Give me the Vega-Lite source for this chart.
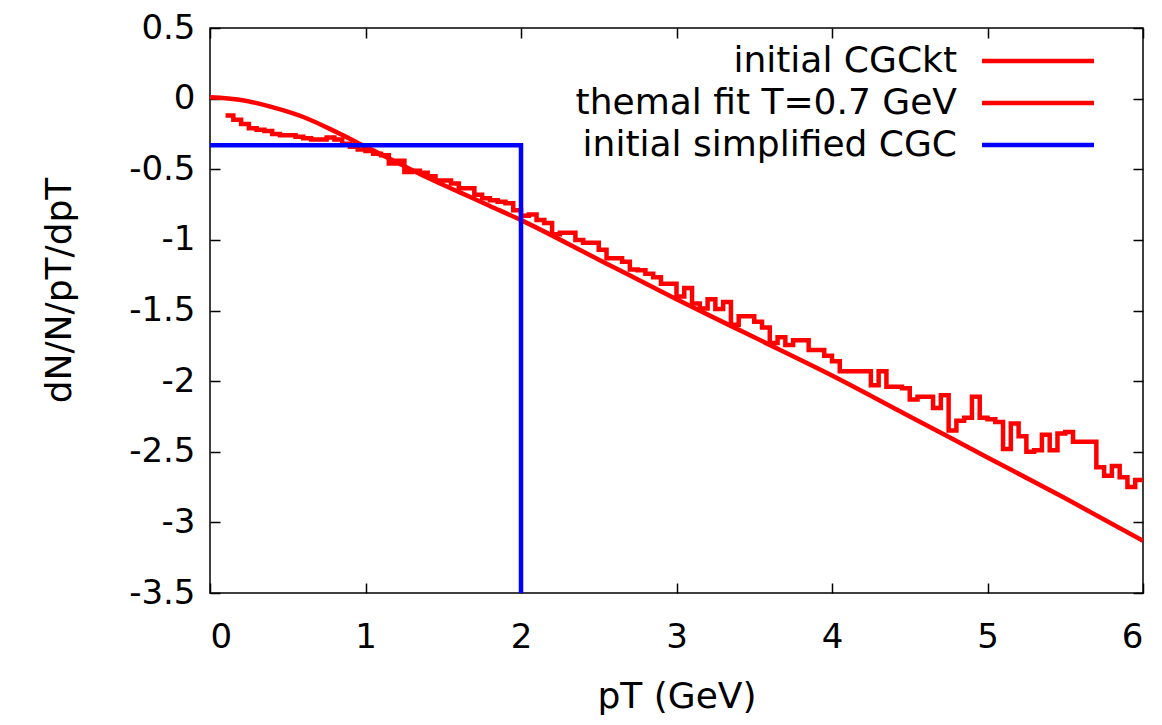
{
  "$schema": "https://vega.github.io/schema/vega-lite/v6.json",
  "width": 933,
  "height": 565,
  "autosize": {"type": "none"},
  "padding": {"left": 210, "top": 28, "right": 19, "bottom": 132},
  "background": "white",
  "config": {
    "view": {"stroke": "black", "strokeWidth": 1.5},
    "axis": {
      "grid": false,
      "domain": false,
      "labelFont": "DejaVu Sans",
      "labelFontSize": 34,
      "labelColor": "black",
      "titleFont": "DejaVu Sans",
      "titleFontSize": 36,
      "titleFontWeight": "normal",
      "titleColor": "black",
      "tickColor": "black",
      "tickWidth": 1.5,
      "tickSize": -10
    }
  },
  "data": {
    "values": [
      {"series": "initial CGCkt", "x": 0.10, "y": -0.12},
      {"series": "initial CGCkt", "x": 0.15, "y": -0.15},
      {"series": "initial CGCkt", "x": 0.20, "y": -0.18},
      {"series": "initial CGCkt", "x": 0.25, "y": -0.21},
      {"series": "initial CGCkt", "x": 0.30, "y": -0.22},
      {"series": "initial CGCkt", "x": 0.35, "y": -0.23},
      {"series": "initial CGCkt", "x": 0.40, "y": -0.25},
      {"series": "initial CGCkt", "x": 0.45, "y": -0.26},
      {"series": "initial CGCkt", "x": 0.50, "y": -0.26},
      {"series": "initial CGCkt", "x": 0.55, "y": -0.27},
      {"series": "initial CGCkt", "x": 0.60, "y": -0.28},
      {"series": "initial CGCkt", "x": 0.65, "y": -0.29},
      {"series": "initial CGCkt", "x": 0.70, "y": -0.29},
      {"series": "initial CGCkt", "x": 0.75, "y": -0.275},
      {"series": "initial CGCkt", "x": 0.80, "y": -0.29},
      {"series": "initial CGCkt", "x": 0.85, "y": -0.32},
      {"series": "initial CGCkt", "x": 0.90, "y": -0.34},
      {"series": "initial CGCkt", "x": 0.95, "y": -0.36},
      {"series": "initial CGCkt", "x": 1.00, "y": -0.37},
      {"series": "initial CGCkt", "x": 1.05, "y": -0.39},
      {"series": "initial CGCkt", "x": 1.10, "y": -0.40},
      {"series": "initial CGCkt", "x": 1.15, "y": -0.46},
      {"series": "initial CGCkt", "x": 1.20, "y": -0.44},
      {"series": "initial CGCkt", "x": 1.25, "y": -0.52},
      {"series": "initial CGCkt", "x": 1.30, "y": -0.51},
      {"series": "initial CGCkt", "x": 1.35, "y": -0.525},
      {"series": "initial CGCkt", "x": 1.40, "y": -0.55},
      {"series": "initial CGCkt", "x": 1.45, "y": -0.58},
      {"series": "initial CGCkt", "x": 1.50, "y": -0.58},
      {"series": "initial CGCkt", "x": 1.55, "y": -0.60},
      {"series": "initial CGCkt", "x": 1.60, "y": -0.635},
      {"series": "initial CGCkt", "x": 1.65, "y": -0.635},
      {"series": "initial CGCkt", "x": 1.70, "y": -0.68},
      {"series": "initial CGCkt", "x": 1.75, "y": -0.705},
      {"series": "initial CGCkt", "x": 1.80, "y": -0.72},
      {"series": "initial CGCkt", "x": 1.85, "y": -0.73},
      {"series": "initial CGCkt", "x": 1.90, "y": -0.74},
      {"series": "initial CGCkt", "x": 1.95, "y": -0.79},
      {"series": "initial CGCkt", "x": 2.00, "y": -0.83},
      {"series": "initial CGCkt", "x": 2.05, "y": -0.82},
      {"series": "initial CGCkt", "x": 2.10, "y": -0.86},
      {"series": "initial CGCkt", "x": 2.15, "y": -0.88},
      {"series": "initial CGCkt", "x": 2.20, "y": -0.96},
      {"series": "initial CGCkt", "x": 2.25, "y": -0.95},
      {"series": "initial CGCkt", "x": 2.30, "y": -0.95},
      {"series": "initial CGCkt", "x": 2.35, "y": -1.00},
      {"series": "initial CGCkt", "x": 2.40, "y": -1.02},
      {"series": "initial CGCkt", "x": 2.45, "y": -1.02},
      {"series": "initial CGCkt", "x": 2.50, "y": -1.07},
      {"series": "initial CGCkt", "x": 2.55, "y": -1.13},
      {"series": "initial CGCkt", "x": 2.60, "y": -1.13},
      {"series": "initial CGCkt", "x": 2.65, "y": -1.155},
      {"series": "initial CGCkt", "x": 2.70, "y": -1.21},
      {"series": "initial CGCkt", "x": 2.75, "y": -1.215},
      {"series": "initial CGCkt", "x": 2.80, "y": -1.24},
      {"series": "initial CGCkt", "x": 2.85, "y": -1.265},
      {"series": "initial CGCkt", "x": 2.90, "y": -1.31},
      {"series": "initial CGCkt", "x": 2.95, "y": -1.31},
      {"series": "initial CGCkt", "x": 3.00, "y": -1.40},
      {"series": "initial CGCkt", "x": 3.05, "y": -1.34},
      {"series": "initial CGCkt", "x": 3.10, "y": -1.45},
      {"series": "initial CGCkt", "x": 3.15, "y": -1.485},
      {"series": "initial CGCkt", "x": 3.20, "y": -1.42},
      {"series": "initial CGCkt", "x": 3.25, "y": -1.49},
      {"series": "initial CGCkt", "x": 3.30, "y": -1.44},
      {"series": "initial CGCkt", "x": 3.35, "y": -1.60},
      {"series": "initial CGCkt", "x": 3.40, "y": -1.54},
      {"series": "initial CGCkt", "x": 3.45, "y": -1.54},
      {"series": "initial CGCkt", "x": 3.50, "y": -1.58},
      {"series": "initial CGCkt", "x": 3.55, "y": -1.62},
      {"series": "initial CGCkt", "x": 3.60, "y": -1.73},
      {"series": "initial CGCkt", "x": 3.65, "y": -1.69},
      {"series": "initial CGCkt", "x": 3.70, "y": -1.745},
      {"series": "initial CGCkt", "x": 3.75, "y": -1.71},
      {"series": "initial CGCkt", "x": 3.80, "y": -1.71},
      {"series": "initial CGCkt", "x": 3.85, "y": -1.78},
      {"series": "initial CGCkt", "x": 3.90, "y": -1.78},
      {"series": "initial CGCkt", "x": 3.95, "y": -1.82},
      {"series": "initial CGCkt", "x": 4.00, "y": -1.86},
      {"series": "initial CGCkt", "x": 4.05, "y": -1.93},
      {"series": "initial CGCkt", "x": 4.10, "y": -1.93},
      {"series": "initial CGCkt", "x": 4.15, "y": -1.93},
      {"series": "initial CGCkt", "x": 4.20, "y": -1.93},
      {"series": "initial CGCkt", "x": 4.25, "y": -2.03},
      {"series": "initial CGCkt", "x": 4.30, "y": -1.93},
      {"series": "initial CGCkt", "x": 4.35, "y": -2.04},
      {"series": "initial CGCkt", "x": 4.40, "y": -2.04},
      {"series": "initial CGCkt", "x": 4.45, "y": -2.05},
      {"series": "initial CGCkt", "x": 4.50, "y": -2.13},
      {"series": "initial CGCkt", "x": 4.55, "y": -2.11},
      {"series": "initial CGCkt", "x": 4.60, "y": -2.11},
      {"series": "initial CGCkt", "x": 4.65, "y": -2.19},
      {"series": "initial CGCkt", "x": 4.70, "y": -2.10},
      {"series": "initial CGCkt", "x": 4.75, "y": -2.35},
      {"series": "initial CGCkt", "x": 4.80, "y": -2.28},
      {"series": "initial CGCkt", "x": 4.85, "y": -2.26},
      {"series": "initial CGCkt", "x": 4.90, "y": -2.11},
      {"series": "initial CGCkt", "x": 4.95, "y": -2.26},
      {"series": "initial CGCkt", "x": 5.00, "y": -2.27},
      {"series": "initial CGCkt", "x": 5.05, "y": -2.29},
      {"series": "initial CGCkt", "x": 5.10, "y": -2.48},
      {"series": "initial CGCkt", "x": 5.15, "y": -2.30},
      {"series": "initial CGCkt", "x": 5.20, "y": -2.39},
      {"series": "initial CGCkt", "x": 5.25, "y": -2.50},
      {"series": "initial CGCkt", "x": 5.30, "y": -2.49},
      {"series": "initial CGCkt", "x": 5.35, "y": -2.38},
      {"series": "initial CGCkt", "x": 5.40, "y": -2.49},
      {"series": "initial CGCkt", "x": 5.45, "y": -2.37},
      {"series": "initial CGCkt", "x": 5.50, "y": -2.36},
      {"series": "initial CGCkt", "x": 5.55, "y": -2.43},
      {"series": "initial CGCkt", "x": 5.60, "y": -2.43},
      {"series": "initial CGCkt", "x": 5.65, "y": -2.43},
      {"series": "initial CGCkt", "x": 5.70, "y": -2.61},
      {"series": "initial CGCkt", "x": 5.75, "y": -2.67},
      {"series": "initial CGCkt", "x": 5.80, "y": -2.60},
      {"series": "initial CGCkt", "x": 5.85, "y": -2.68},
      {"series": "initial CGCkt", "x": 5.90, "y": -2.75},
      {"series": "initial CGCkt", "x": 5.95, "y": -2.70},
      {"series": "initial CGCkt", "x": 6.00, "y": -2.70},
      {"series": "themal fit T=0.7 GeV", "x": 0.0, "y": 0.01},
      {"series": "themal fit T=0.7 GeV", "x": 0.2, "y": -0.01},
      {"series": "themal fit T=0.7 GeV", "x": 0.4, "y": -0.06},
      {"series": "themal fit T=0.7 GeV", "x": 0.6, "y": -0.13},
      {"series": "themal fit T=0.7 GeV", "x": 0.8, "y": -0.23},
      {"series": "themal fit T=0.7 GeV", "x": 1.0, "y": -0.34},
      {"series": "themal fit T=0.7 GeV", "x": 1.2, "y": -0.45},
      {"series": "themal fit T=0.7 GeV", "x": 1.4, "y": -0.56},
      {"series": "themal fit T=0.7 GeV", "x": 1.6, "y": -0.66},
      {"series": "themal fit T=0.7 GeV", "x": 1.8, "y": -0.76},
      {"series": "themal fit T=0.7 GeV", "x": 2.0, "y": -0.86},
      {"series": "themal fit T=0.7 GeV", "x": 2.5, "y": -1.14},
      {"series": "themal fit T=0.7 GeV", "x": 3.0, "y": -1.42},
      {"series": "themal fit T=0.7 GeV", "x": 3.5, "y": -1.69},
      {"series": "themal fit T=0.7 GeV", "x": 4.0, "y": -1.96},
      {"series": "themal fit T=0.7 GeV", "x": 4.5, "y": -2.25},
      {"series": "themal fit T=0.7 GeV", "x": 5.0, "y": -2.54},
      {"series": "themal fit T=0.7 GeV", "x": 5.5, "y": -2.83},
      {"series": "themal fit T=0.7 GeV", "x": 6.0, "y": -3.13},
      {"series": "initial simplified CGC", "x": 0.0, "y": -0.33, "i": 1},
      {"series": "initial simplified CGC", "x": 2.0, "y": -0.33, "i": 2},
      {"series": "initial simplified CGC", "x": 2.0, "y": -3.5, "i": 3}
    ]
  },
  "layer": [
    {
      "transform": [{"filter": "datum.series === 'initial CGCkt'"}],
      "mark": {"type": "line", "interpolate": "step-after", "strokeWidth": 4.5, "clip": true},
      "encoding": {
        "x": {"field": "x", "type": "quantitative", "scale": {"domain": [0, 6], "nice": false},
          "axis": {"orient": "bottom", "values": [0, 1, 2, 3, 4, 5, 6], "labelPadding": 37, "title": "pT (GeV)", "titlePadding": 25}},
        "y": {"field": "y", "type": "quantitative", "scale": {"domain": [-3.5, 0.5], "nice": false, "zero": false},
          "axis": {"orient": "left", "values": [-3.5, -3, -2.5, -2, -1.5, -1, -0.5, 0, 0.5], "labelExpr": "'' + datum.value", "labelPadding": 25, "title": "dN/N/pT/dpT", "titlePadding": 50, "titleY": 262}},
        "color": {"field": "series", "type": "nominal",
          "scale": {"domain": ["initial CGCkt", "themal fit T=0.7 GeV", "initial simplified CGC"], "range": ["#ff0000", "#ff0000", "#0000ff"]},
          "legend": {"orient": "none", "legendX": 810, "legendY": 15, "title": null, "symbolType": "M-8,0H8", "symbolSize": 196, "symbolStrokeWidth": 4.5, "labelFont": "DejaVu Sans", "labelFontSize": 36, "labelColor": "black", "labelAlign": "right", "labelOffset": -99, "labelLimit": 1000, "rowPadding": 6, "padding": 0}}
      }
    },
    {
      "transform": [{"filter": "datum.series === 'themal fit T=0.7 GeV'"}],
      "mark": {"type": "line", "interpolate": "monotone", "strokeWidth": 4.5, "clip": true},
      "encoding": {
        "x": {"field": "x", "type": "quantitative", "axis": null},
        "y": {"field": "y", "type": "quantitative", "axis": null},
        "color": {"field": "series", "type": "nominal"}
      }
    },
    {
      "transform": [{"filter": "datum.series === 'initial simplified CGC'"}],
      "mark": {"type": "line", "strokeWidth": 4.5, "clip": true},
      "encoding": {
        "x": {"field": "x", "type": "quantitative", "axis": null},
        "y": {"field": "y", "type": "quantitative", "axis": null},
        "order": {"field": "i", "type": "quantitative"},
        "color": {"field": "series", "type": "nominal"}
      }
    },
    {
      "transform": [{"filter": "datum.series === 'themal fit T=0.7 GeV'"}],
      "mark": {"type": "line", "strokeWidth": 0, "stroke": "transparent"},
      "encoding": {
        "x": {"field": "x", "type": "quantitative",
          "axis": {"orient": "top", "values": [0, 1, 2, 3, 4, 5, 6], "labels": false, "title": null}},
        "y": {"field": "y", "type": "quantitative",
          "axis": {"orient": "right", "values": [-3.5, -3, -2.5, -2, -1.5, -1, -0.5, 0, 0.5], "labels": false, "title": null}}
      }
    }
  ],
  "resolve": {"axis": {"x": "independent", "y": "independent"}}
}
